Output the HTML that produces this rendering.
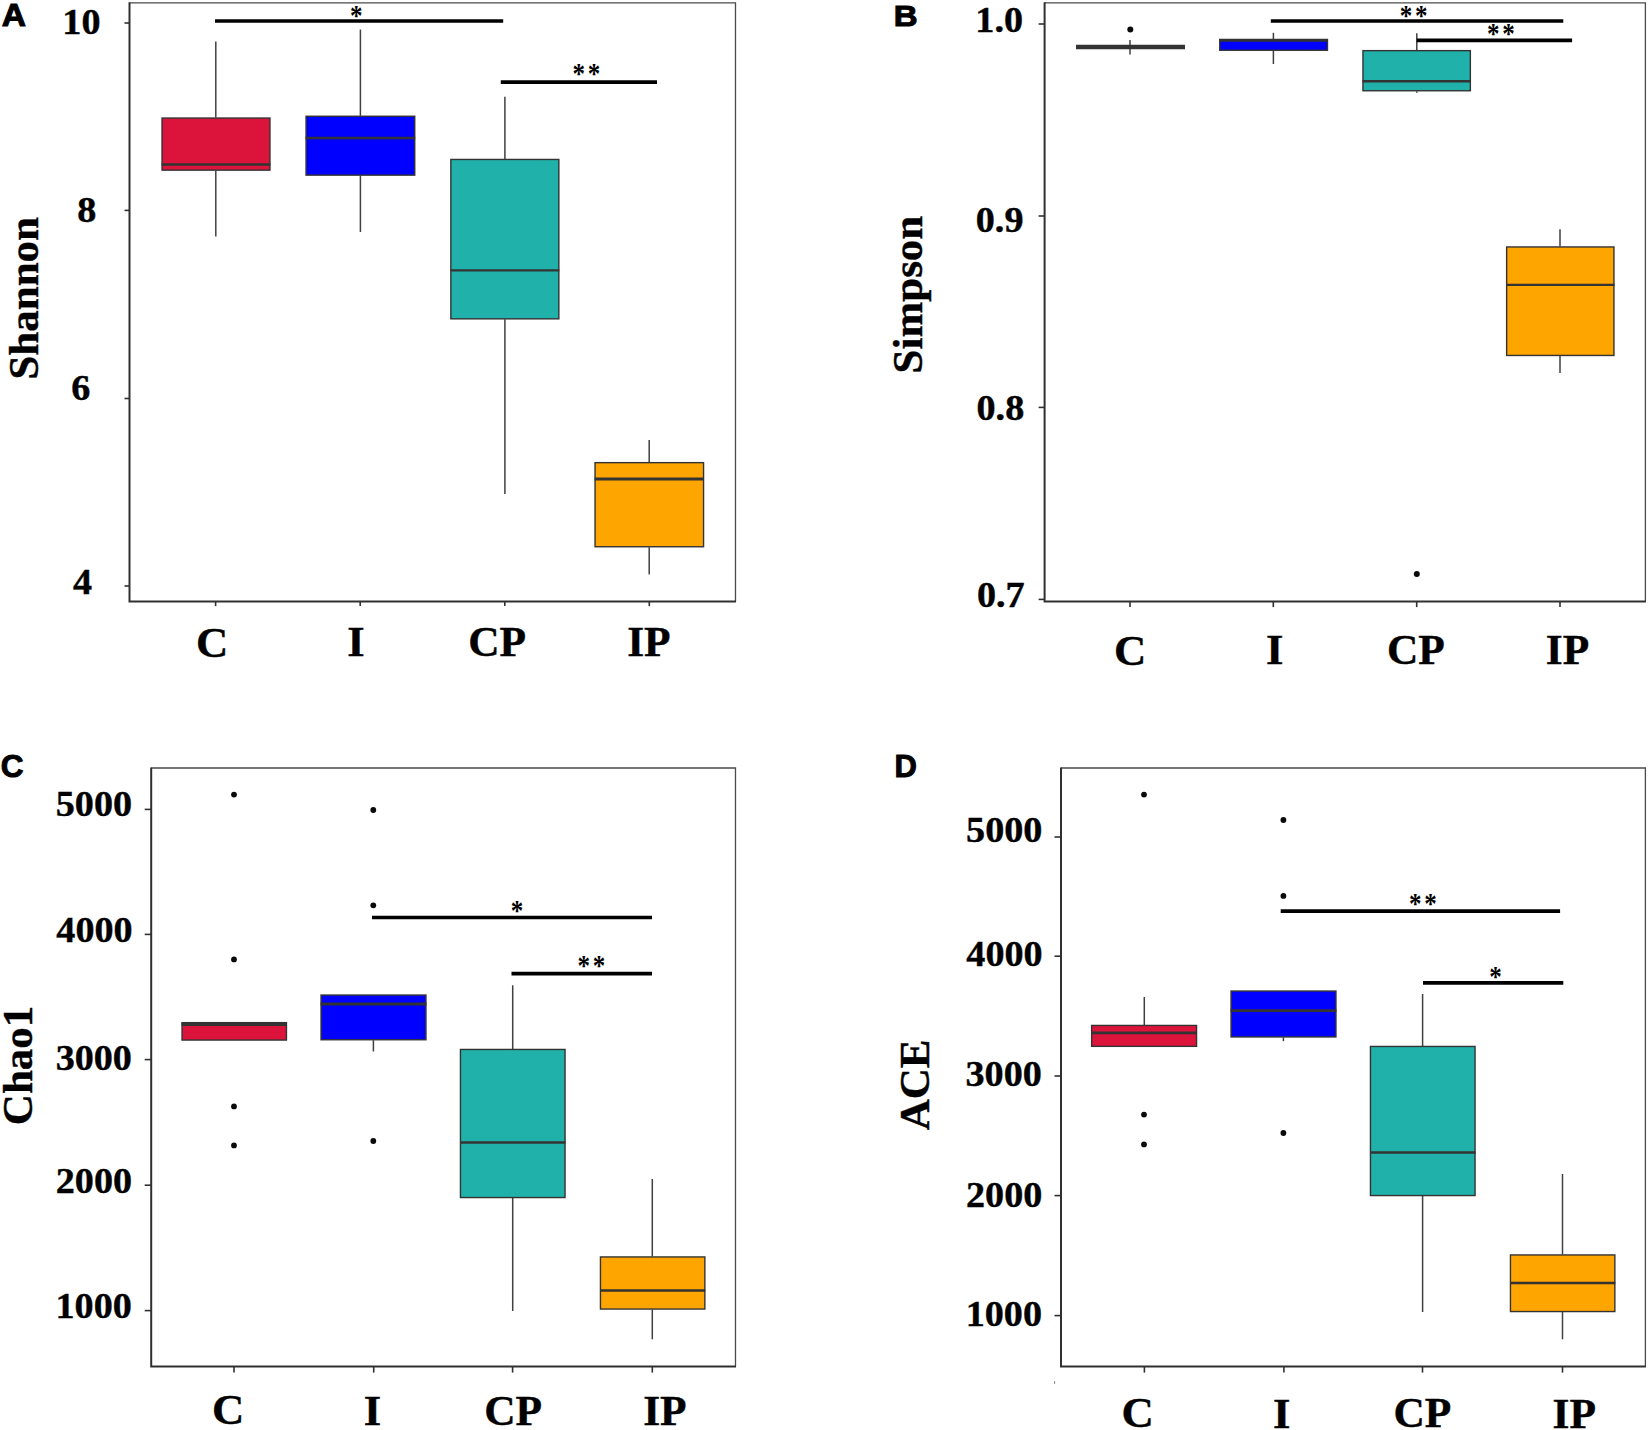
<!DOCTYPE html>
<html><head><meta charset="utf-8"><title>Alpha diversity boxplots</title>
<style>
html,body{margin:0;padding:0;background:#fff;}
svg{display:block;}
.s{font-family:"Liberation Serif","DejaVu Serif",serif;font-weight:bold;fill:#000;stroke:#000;stroke-width:0.4px;}
.st{font-family:"Liberation Serif","DejaVu Serif",serif;font-weight:bold;fill:#000;}
.a{font-family:"Liberation Sans","DejaVu Sans",sans-serif;font-weight:bold;fill:#000;stroke:#000;stroke-width:1px;}
.w{stroke:#404040;stroke-width:1.5;}
.bx{stroke:#333333;stroke-width:1.4;}
</style></head><body>
<svg width="1650" height="1430" viewBox="0 0 1650 1430">
<rect x="0" y="0" width="1650" height="1430" fill="#fff"/>
<path d="M129.5 2.8H735.5V601.6" fill="none" stroke="#4a4a4a" stroke-width="1.3"/>
<path d="M129.5 2.3V601.6H736.0" fill="none" stroke="#303030" stroke-width="2"/>
<line x1="215.6" y1="601.6" x2="215.6" y2="606.1" stroke="#303030" stroke-width="1.6"/>
<line x1="360.2" y1="601.6" x2="360.2" y2="606.1" stroke="#303030" stroke-width="1.6"/>
<line x1="504.8" y1="601.6" x2="504.8" y2="606.1" stroke="#303030" stroke-width="1.6"/>
<line x1="649.3" y1="601.6" x2="649.3" y2="606.1" stroke="#303030" stroke-width="1.6"/>
<line x1="124.5" y1="23" x2="129.5" y2="23" stroke="#303030" stroke-width="1.6"/>
<line x1="124.5" y1="210.4" x2="129.5" y2="210.4" stroke="#303030" stroke-width="1.6"/>
<line x1="124.5" y1="398.5" x2="129.5" y2="398.5" stroke="#303030" stroke-width="1.6"/>
<line x1="124.5" y1="586" x2="129.5" y2="586" stroke="#303030" stroke-width="1.6"/>
<text transform="translate(1.72,26.18) scale(1.1,1)" font-size="30.5" class="a">A</text>
<text transform="translate(62.31,34.49) scale(1.06,1)" font-size="36" class="s">10</text>
<text transform="translate(77.26,221.79) scale(1.06,1)" font-size="36" class="s">8</text>
<text transform="translate(71.36,399.75) scale(1.06,1)" font-size="36" class="s">6</text>
<text transform="translate(73.06,593.84) scale(1.06,1)" font-size="36" class="s">4</text>
<text transform="translate(37.73,379.58) rotate(-90)" font-size="43" class="s">Shannon</text>
<text transform="translate(195.96,656.53) scale(1.04,1)" font-size="43" class="s">C</text>
<text transform="translate(347.34,656.33) scale(1.04,1)" font-size="43" class="s">I</text>
<text transform="translate(468.18,656.03) scale(1.01,1)" font-size="43" class="s">CP</text>
<text transform="translate(627.13,656.33) scale(1.01,1)" font-size="43" class="s">IP</text>
<line x1="215.8" y1="41.6" x2="215.8" y2="117.6" class="w"/>
<line x1="215.8" y1="170.6" x2="215.8" y2="236.4" class="w"/>
<rect x="162.05" y="118.05" width="107.9" height="52.1" fill="#DC143C" class="bx"/>
<line x1="161.6" y1="164.5" x2="270.4" y2="164.5" stroke="#333333" stroke-width="2.4"/>
<line x1="360.4" y1="29.5" x2="360.4" y2="115.8" class="w"/>
<line x1="360.4" y1="175.6" x2="360.4" y2="232" class="w"/>
<rect x="306.05" y="116.25" width="108.7" height="58.9" fill="#0000FF" class="bx"/>
<line x1="305.6" y1="138" x2="415.2" y2="138" stroke="#333333" stroke-width="2.4"/>
<line x1="504.9" y1="96.8" x2="504.9" y2="159" class="w"/>
<line x1="504.9" y1="319.3" x2="504.9" y2="494" class="w"/>
<rect x="450.85" y="159.45" width="108" height="159.4" fill="#20B2AA" class="bx"/>
<line x1="450.4" y1="270.4" x2="559.3" y2="270.4" stroke="#333333" stroke-width="2.4"/>
<line x1="649.2" y1="440" x2="649.2" y2="462.2" class="w"/>
<line x1="649.2" y1="547.2" x2="649.2" y2="574.5" class="w"/>
<rect x="595.05" y="462.65" width="108.5" height="84.1" fill="#FFA500" class="bx"/>
<line x1="594.6" y1="479" x2="704" y2="479" stroke="#333333" stroke-width="2.8"/>
<line x1="215" y1="21" x2="503.2" y2="21" stroke="#000" stroke-width="3.7"/>
<text transform="translate(349.93,25.1) scale(0.85,1)" font-size="29.5" class="st">*</text>
<line x1="500.8" y1="82.1" x2="657" y2="82.1" stroke="#000" stroke-width="3.7"/>
<text transform="translate(572.6,83.3) scale(0.85,1)" font-size="29.5" class="st" letter-spacing="3.2">**</text>
<path d="M1044.6 2.8H1645.4V601.6" fill="none" stroke="#4a4a4a" stroke-width="1.3"/>
<path d="M1044.6 2.3V601.6H1645.9" fill="none" stroke="#303030" stroke-width="2"/>
<line x1="1130" y1="601.6" x2="1130" y2="607.1" stroke="#303030" stroke-width="1.6"/>
<line x1="1273.3" y1="601.6" x2="1273.3" y2="607.1" stroke="#303030" stroke-width="1.6"/>
<line x1="1416.7" y1="601.6" x2="1416.7" y2="607.1" stroke="#303030" stroke-width="1.6"/>
<line x1="1560" y1="601.6" x2="1560" y2="607.1" stroke="#303030" stroke-width="1.6"/>
<line x1="1038.6" y1="24" x2="1044.6" y2="24" stroke="#303030" stroke-width="1.6"/>
<line x1="1038.6" y1="216" x2="1044.6" y2="216" stroke="#303030" stroke-width="1.6"/>
<line x1="1038.6" y1="407.4" x2="1044.6" y2="407.4" stroke="#303030" stroke-width="1.6"/>
<line x1="1038.6" y1="599.4" x2="1044.6" y2="599.4" stroke="#303030" stroke-width="1.6"/>
<text transform="translate(893.81,25.81) scale(1.1,1)" font-size="30" class="a">B</text>
<text transform="translate(975.34,32.2) scale(1.06,1)" font-size="36" class="s">1.0</text>
<text transform="translate(975.8,231.9) scale(1.06,1)" font-size="36" class="s">0.9</text>
<text transform="translate(976.55,419.7) scale(1.06,1)" font-size="36" class="s">0.8</text>
<text transform="translate(976.91,607.2) scale(1.06,1)" font-size="36" class="s">0.7</text>
<text transform="translate(921.87,373.46) rotate(-90)" font-size="43" class="s">Simpson</text>
<text transform="translate(1113.96,664.53) scale(1.04,1)" font-size="43" class="s">C</text>
<text transform="translate(1265.99,664.33) scale(1.04,1)" font-size="43" class="s">I</text>
<text transform="translate(1386.88,664.03) scale(1.01,1)" font-size="43" class="s">CP</text>
<text transform="translate(1545.78,664.33) scale(1.01,1)" font-size="43" class="s">IP</text>
<line x1="1130" y1="40" x2="1130" y2="54.4" class="w"/>
<line x1="1076" y1="47" x2="1185" y2="47" stroke="#333333" stroke-width="4.6"/>
<circle cx="1130.3" cy="29.5" r="3" fill="#0a0a0a"/>
<line x1="1273.4" y1="32.8" x2="1273.4" y2="39" class="w"/>
<line x1="1273.4" y1="50.7" x2="1273.4" y2="64" class="w"/>
<rect x="1219.75" y="39.45" width="107.7" height="10.8" fill="#0000FF" class="bx"/>
<line x1="1219.3" y1="40.4" x2="1327.9" y2="40.4" stroke="#333333" stroke-width="2.6"/>
<line x1="1416.8" y1="33.3" x2="1416.8" y2="50.2" class="w"/>
<line x1="1416.8" y1="91.2" x2="1416.8" y2="92.8" class="w"/>
<rect x="1362.95" y="50.65" width="107.4" height="40.1" fill="#20B2AA" class="bx"/>
<line x1="1362.5" y1="81.2" x2="1470.8" y2="81.2" stroke="#333333" stroke-width="2.4"/>
<circle cx="1416.8" cy="574.1" r="3" fill="#0a0a0a"/>
<line x1="1560" y1="229.3" x2="1560" y2="246.5" class="w"/>
<line x1="1560" y1="355.9" x2="1560" y2="373.1" class="w"/>
<rect x="1506.65" y="246.95" width="107.3" height="108.5" fill="#FFA500" class="bx"/>
<line x1="1506.2" y1="284.9" x2="1614.4" y2="284.9" stroke="#333333" stroke-width="2.4"/>
<line x1="1270.8" y1="21" x2="1563.3" y2="21" stroke="#000" stroke-width="3.7"/>
<text transform="translate(1399.8,25.1) scale(0.85,1)" font-size="29.5" class="st" letter-spacing="3.2">**</text>
<line x1="1416.7" y1="40.4" x2="1572.1" y2="40.4" stroke="#000" stroke-width="3.7"/>
<text transform="translate(1486.9,43.05) scale(0.85,1)" font-size="29.5" class="st" letter-spacing="3.2">**</text>
<path d="M151.2 768H735.5V1366.6" fill="none" stroke="#4a4a4a" stroke-width="1.3"/>
<path d="M151.2 767.5V1366.6H736.0" fill="none" stroke="#303030" stroke-width="2"/>
<line x1="234" y1="1366.6" x2="234" y2="1372.6" stroke="#303030" stroke-width="1.6"/>
<line x1="373.7" y1="1366.6" x2="373.7" y2="1372.6" stroke="#303030" stroke-width="1.6"/>
<line x1="512.6" y1="1366.6" x2="512.6" y2="1372.6" stroke="#303030" stroke-width="1.6"/>
<line x1="652.3" y1="1366.6" x2="652.3" y2="1372.6" stroke="#303030" stroke-width="1.6"/>
<line x1="144.7" y1="809.4" x2="151.2" y2="809.4" stroke="#303030" stroke-width="1.6"/>
<line x1="144.7" y1="934.4" x2="151.2" y2="934.4" stroke="#303030" stroke-width="1.6"/>
<line x1="144.7" y1="1059.6" x2="151.2" y2="1059.6" stroke="#303030" stroke-width="1.6"/>
<line x1="144.7" y1="1185.2" x2="151.2" y2="1185.2" stroke="#303030" stroke-width="1.6"/>
<line x1="144.7" y1="1310.6" x2="151.2" y2="1310.6" stroke="#303030" stroke-width="1.6"/>
<text transform="translate(0.72,777.33)" font-size="31.5" class="a">C</text>
<text transform="translate(55.79,816.49) scale(1.06,1)" font-size="36" class="s">5000</text>
<text transform="translate(56.32,942.29) scale(1.06,1)" font-size="36" class="s">4000</text>
<text transform="translate(55.64,1069.54) scale(1.06,1)" font-size="36" class="s">3000</text>
<text transform="translate(55.74,1193.04) scale(1.06,1)" font-size="36" class="s">2000</text>
<text transform="translate(55.53,1318.29) scale(1.06,1)" font-size="36" class="s">1000</text>
<text transform="translate(32.13,1125.16) rotate(-90)" font-size="43" class="s">Chao1</text>
<text transform="translate(211.96,1424.13) scale(1.04,1)" font-size="43" class="s">C</text>
<text transform="translate(363.74,1425.43) scale(1.04,1)" font-size="43" class="s">I</text>
<text transform="translate(484.18,1424.98) scale(1.01,1)" font-size="43" class="s">CP</text>
<text transform="translate(643.13,1425.43) scale(1.01,1)" font-size="43" class="s">IP</text>
<circle cx="234" cy="794.6" r="2.9" fill="#0a0a0a"/>
<circle cx="234" cy="959.4" r="2.9" fill="#0a0a0a"/>
<circle cx="234" cy="1106.4" r="2.9" fill="#0a0a0a"/>
<circle cx="234" cy="1145.4" r="2.9" fill="#0a0a0a"/>
<rect x="182.05" y="1022.65" width="104.4" height="17.4" fill="#DC143C" class="bx"/>
<line x1="181.6" y1="1024.3" x2="286.9" y2="1024.3" stroke="#333333" stroke-width="3.6"/>
<circle cx="373.3" cy="810" r="2.9" fill="#0a0a0a"/>
<circle cx="373.3" cy="905.3" r="2.9" fill="#0a0a0a"/>
<circle cx="373.3" cy="1141" r="2.9" fill="#0a0a0a"/>
<line x1="373.4" y1="1040.2" x2="373.4" y2="1051.5" class="w"/>
<rect x="321.05" y="995.05" width="104.9" height="44.7" fill="#0000FF" class="bx"/>
<line x1="320.6" y1="1004" x2="426.4" y2="1004" stroke="#333333" stroke-width="2.8"/>
<line x1="512.7" y1="985.3" x2="512.7" y2="1049" class="w"/>
<line x1="512.7" y1="1198" x2="512.7" y2="1311" class="w"/>
<rect x="460.45" y="1049.45" width="104.6" height="148.1" fill="#20B2AA" class="bx"/>
<line x1="460" y1="1142.5" x2="565.5" y2="1142.5" stroke="#333333" stroke-width="2.4"/>
<line x1="652.3" y1="1179" x2="652.3" y2="1256.5" class="w"/>
<line x1="652.3" y1="1309.5" x2="652.3" y2="1339.3" class="w"/>
<rect x="600.45" y="1256.95" width="104.4" height="52.1" fill="#FFA500" class="bx"/>
<line x1="600" y1="1290.5" x2="705.3" y2="1290.5" stroke="#333333" stroke-width="2.4"/>
<line x1="372" y1="917.5" x2="652" y2="917.5" stroke="#000" stroke-width="3.7"/>
<text transform="translate(510.63,920.4) scale(0.85,1)" font-size="29.5" class="st">*</text>
<line x1="511.5" y1="973.7" x2="652" y2="973.7" stroke="#000" stroke-width="3.7"/>
<text transform="translate(577.4,975.1) scale(0.85,1)" font-size="29.5" class="st" letter-spacing="3.2">**</text>
<path d="M1061 768H1645.4V1366.6" fill="none" stroke="#4a4a4a" stroke-width="1.3"/>
<path d="M1061 767.5V1366.6H1645.9" fill="none" stroke="#303030" stroke-width="2"/>
<line x1="1144.4" y1="1366.6" x2="1144.4" y2="1372.6" stroke="#303030" stroke-width="1.6"/>
<line x1="1283.9" y1="1366.6" x2="1283.9" y2="1372.6" stroke="#303030" stroke-width="1.6"/>
<line x1="1422.5" y1="1366.6" x2="1422.5" y2="1372.6" stroke="#303030" stroke-width="1.6"/>
<line x1="1562.5" y1="1366.6" x2="1562.5" y2="1372.6" stroke="#303030" stroke-width="1.6"/>
<line x1="1054.5" y1="837" x2="1061" y2="837" stroke="#303030" stroke-width="1.6"/>
<line x1="1054.5" y1="956.2" x2="1061" y2="956.2" stroke="#303030" stroke-width="1.6"/>
<line x1="1054.5" y1="1076" x2="1061" y2="1076" stroke="#303030" stroke-width="1.6"/>
<line x1="1054.5" y1="1195.6" x2="1061" y2="1195.6" stroke="#303030" stroke-width="1.6"/>
<line x1="1054.5" y1="1315.6" x2="1061" y2="1315.6" stroke="#303030" stroke-width="1.6"/>
<text transform="translate(894.41,777.26)" font-size="31" class="a">D</text>
<text transform="translate(966.09,842.49) scale(1.06,1)" font-size="36" class="s">5000</text>
<text transform="translate(966.32,966.29) scale(1.06,1)" font-size="36" class="s">4000</text>
<text transform="translate(965.54,1086.49) scale(1.06,1)" font-size="36" class="s">3000</text>
<text transform="translate(966.04,1206.79) scale(1.06,1)" font-size="36" class="s">2000</text>
<text transform="translate(965.73,1325.79) scale(1.06,1)" font-size="36" class="s">1000</text>
<text transform="translate(928.83,1130.3) rotate(-90)" font-size="43" class="s">ACE</text>
<text transform="translate(1121.46,1427.03) scale(1.04,1)" font-size="43" class="s">C</text>
<text transform="translate(1273.09,1427.68) scale(1.04,1)" font-size="43" class="s">I</text>
<text transform="translate(1393.38,1427.38) scale(1.01,1)" font-size="43" class="s">CP</text>
<text transform="translate(1552.58,1427.68) scale(1.01,1)" font-size="43" class="s">IP</text>
<circle cx="1144" cy="794.6" r="2.9" fill="#0a0a0a"/>
<circle cx="1144" cy="1114.6" r="2.9" fill="#0a0a0a"/>
<circle cx="1144" cy="1144.4" r="2.9" fill="#0a0a0a"/>
<line x1="1144.3" y1="997" x2="1144.3" y2="1025" class="w"/>
<rect x="1091.65" y="1025.45" width="104.9" height="20.9" fill="#DC143C" class="bx"/>
<line x1="1091.2" y1="1032.8" x2="1197" y2="1032.8" stroke="#333333" stroke-width="2.8"/>
<circle cx="1283.4" cy="820" r="2.9" fill="#0a0a0a"/>
<circle cx="1283.4" cy="895.9" r="2.9" fill="#0a0a0a"/>
<circle cx="1283.4" cy="1133" r="2.9" fill="#0a0a0a"/>
<line x1="1283.4" y1="1037.4" x2="1283.4" y2="1041.2" class="w"/>
<rect x="1231.05" y="991.05" width="104.9" height="45.9" fill="#0000FF" class="bx"/>
<line x1="1230.6" y1="1010.7" x2="1336.4" y2="1010.7" stroke="#333333" stroke-width="2.8"/>
<line x1="1422.6" y1="994" x2="1422.6" y2="1046" class="w"/>
<line x1="1422.6" y1="1196" x2="1422.6" y2="1312" class="w"/>
<rect x="1370.45" y="1046.45" width="104.6" height="149.1" fill="#20B2AA" class="bx"/>
<line x1="1370" y1="1152.5" x2="1475.5" y2="1152.5" stroke="#333333" stroke-width="2.4"/>
<line x1="1562.5" y1="1174" x2="1562.5" y2="1254.5" class="w"/>
<line x1="1562.5" y1="1312" x2="1562.5" y2="1339.3" class="w"/>
<rect x="1510.45" y="1254.95" width="104.4" height="56.6" fill="#FFA500" class="bx"/>
<line x1="1510" y1="1283" x2="1615.3" y2="1283" stroke="#333333" stroke-width="2.4"/>
<line x1="1280.7" y1="911.2" x2="1560.1" y2="911.2" stroke="#000" stroke-width="3.7"/>
<text transform="translate(1409.05,912.75) scale(0.85,1)" font-size="29.5" class="st" letter-spacing="3.2">**</text>
<line x1="1423" y1="982.9" x2="1563.3" y2="982.9" stroke="#000" stroke-width="3.7"/>
<text transform="translate(1489.33,985.65) scale(0.85,1)" font-size="29.5" class="st">*</text>
<line x1="1054.6" y1="1381" x2="1054.6" y2="1384" stroke="#888" stroke-width="1"/>
</svg>
</body></html>
